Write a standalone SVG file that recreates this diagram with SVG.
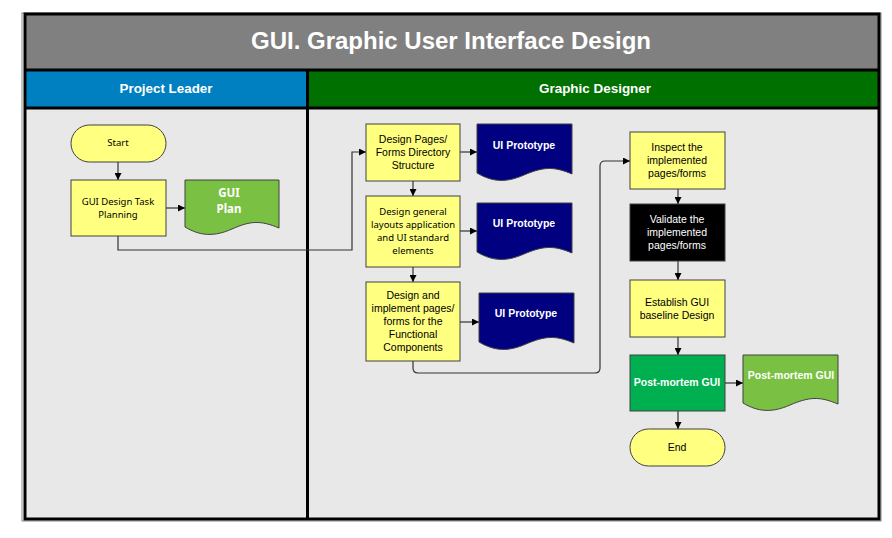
<svg xmlns="http://www.w3.org/2000/svg" width="892" height="538" viewBox="0 0 892 538">
<defs>
<style>
.box{stroke:#404040;stroke-width:1}
.task{fill:#FFFF80}
.t{font-family:"Liberation Sans",Arial,sans-serif;font-size:10.5px;text-anchor:middle;fill:#000}
.c{font-family:"Noto Sans","Liberation Sans",sans-serif;font-size:9.5px;text-anchor:middle;fill:#000}
.w{fill:#fff;font-weight:bold}
.big{font-size:11.5px}
.conn{fill:none;stroke:#333;stroke-width:1.2;marker-end:url(#ah)}
</style>
<marker id="ah" viewBox="0 0 10 10" refX="10" refY="5" markerWidth="7" markerHeight="7" markerUnits="userSpaceOnUse" orient="auto">
<path d="M0,0 L10,5 L0,10 z" fill="#000"/>
</marker>
</defs>
<rect width="892" height="538" fill="#fff"/>
<!-- frame -->
<g id="frame">
<rect x="22" y="13" width="859" height="508" fill="none" stroke="#888" stroke-width="1"/>
<rect x="25" y="14" width="854" height="505" fill="#E8E8E8"/>
<rect x="25" y="14" width="854" height="56" fill="#808080"/>
<rect x="25" y="70" width="282" height="38" fill="#0080C0"/>
<rect x="307" y="70" width="572" height="38" fill="#007000"/>
<line x1="25" y1="70" x2="879" y2="70" stroke="#000" stroke-width="3"/>
<line x1="25" y1="108" x2="879" y2="108" stroke="#000" stroke-width="3"/>
<line x1="307.5" y1="70" x2="307.5" y2="519" stroke="#000" stroke-width="3"/>
<rect x="25" y="14" width="854" height="505" fill="none" stroke="#000" stroke-width="3"/>
<text x="451" y="49" font-family="Liberation Sans, Arial, sans-serif" font-size="24" font-weight="bold" fill="#fff" text-anchor="middle" textLength="400" lengthAdjust="spacingAndGlyphs">GUI. Graphic User Interface Design</text>
<text x="166" y="93" font-family="Liberation Sans, Arial, sans-serif" font-size="13" font-weight="bold" fill="#fff" text-anchor="middle" textLength="93" lengthAdjust="spacingAndGlyphs">Project Leader</text>
<text x="595" y="93" font-family="Liberation Sans, Arial, sans-serif" font-size="13" font-weight="bold" fill="#fff" text-anchor="middle" textLength="112" lengthAdjust="spacingAndGlyphs">Graphic Designer</text>
</g>
<!-- connectors -->
<g id="connectors">
<path class="conn" d="M118,162 V180"/>
<path class="conn" d="M166,208 H185"/>
<path class="conn" d="M118,236 V250 H352 V152 H366" stroke="#555"/>
<path class="conn" d="M460,152 H477"/>
<path class="conn" d="M413,181 V196"/>
<path class="conn" d="M460,231 H477"/>
<path class="conn" d="M413,267 V282"/>
<path class="conn" d="M460,322 H479"/>
<path class="conn" d="M413,361 V368 Q413,373 418,373 H595 Q600,373 600,368 V166 Q600,161 605,161 H630"/>
<path class="conn" d="M678,189 V204"/>
<path class="conn" d="M678,261 V280"/>
<path class="conn" d="M678,337 V355"/>
<path class="conn" d="M725,383 H743"/>
<path class="conn" d="M678,411 V429"/>
</g>
<!-- nodes -->
<g id="start">
<rect class="box task" x="71" y="125" width="95" height="37" rx="18.5"/>
<text class="c" x="118" y="146">Start</text>
</g>
<g id="planning">
<rect class="box task" x="71" y="180" width="95" height="56"/>
<text class="c" x="118" y="205">GUI Design Task</text>
<text class="c" x="118" y="218">Planning</text>
</g>
<g id="guiplan">
<path class="box" fill="#7AC143" d="M185,180 H279 V228 C260,220 250,221 232,229 C214,237 200,236 185,227 Z"/>
<text class="c w big" x="229" y="197">GUI</text>
<text class="c w big" x="229" y="213">Plan</text>
</g>
<g id="designpages">
<rect class="box task" x="366" y="124" width="94" height="57"/>
<text class="t" x="413" y="143">Design Pages/</text>
<text class="t" x="413" y="156">Forms Directory</text>
<text class="t" x="413" y="169">Structure</text>
</g>
<g id="uiproto1">
<path class="box" fill="#000080" d="M477,124 H572 V174 C553,166 543,167 524,175 C506,183 492,182 477,173 Z"/>
<text class="t w" x="524" y="149">UI Prototype</text>
</g>
<g id="designgeneral">
<rect class="box task" x="366" y="196" width="94" height="71"/>
<text class="c" x="413" y="215">Design general</text>
<text class="c" x="413" y="228">layouts application</text>
<text class="c" x="413" y="241">and UI standard</text>
<text class="c" x="413" y="254">elements</text>
</g>
<g id="uiproto2">
<path class="box" fill="#000080" d="M477,203 H572 V253 C553,245 543,246 524,254 C506,262 492,261 477,252 Z"/>
<text class="t w" x="524" y="227">UI Prototype</text>
</g>
<g id="designimplement">
<rect class="box task" x="366" y="282" width="94" height="79"/>
<text class="t" x="413" y="299">Design and</text>
<text class="t" x="413" y="312">implement pages/</text>
<text class="t" x="413" y="325">forms for the</text>
<text class="t" x="413" y="338">Functional</text>
<text class="t" x="413" y="351">Components</text>
</g>
<g id="uiproto3">
<path class="box" fill="#000080" d="M479,293 H574 V343 C555,335 545,336 526,344 C508,352 494,351 479,342 Z"/>
<text class="t w" x="526" y="317">UI Prototype</text>
</g>
<g id="inspect">
<rect class="box task" x="630" y="132" width="95" height="57"/>
<text class="t" x="677" y="151">Inspect the</text>
<text class="t" x="677" y="164">implemented</text>
<text class="t" x="677" y="177">pages/forms</text>
</g>
<g id="validate">
<rect class="box" fill="#000" x="630" y="204" width="95" height="57"/>
<text class="t" style="fill:#fff" x="677" y="223">Validate the</text>
<text class="t" style="fill:#fff" x="677" y="236">implemented</text>
<text class="t" style="fill:#fff" x="677" y="249">pages/forms</text>
</g>
<g id="establish">
<rect class="box task" x="630" y="280" width="95" height="57"/>
<text class="t" x="677" y="306">Establish GUI</text>
<text class="t" x="677" y="319">baseline Design</text>
</g>
<g id="postmortem">
<rect class="box" fill="#00B050" x="630" y="355" width="95" height="56"/>
<text class="t w" x="677" y="386">Post-mortem GUI</text>
</g>
<g id="postmortemdoc">
<path class="box" fill="#7AC143" d="M743,355 H838 V404 C819,396 809,397 790,405 C772,413 758,412 743,403 Z"/>
<text class="t w" x="791" y="379">Post-mortem GUI</text>
</g>
<g id="end">
<rect class="box task" x="630" y="429" width="95" height="37" rx="18.5"/>
<text class="t" x="677" y="451">End</text>
</g>
</svg>
